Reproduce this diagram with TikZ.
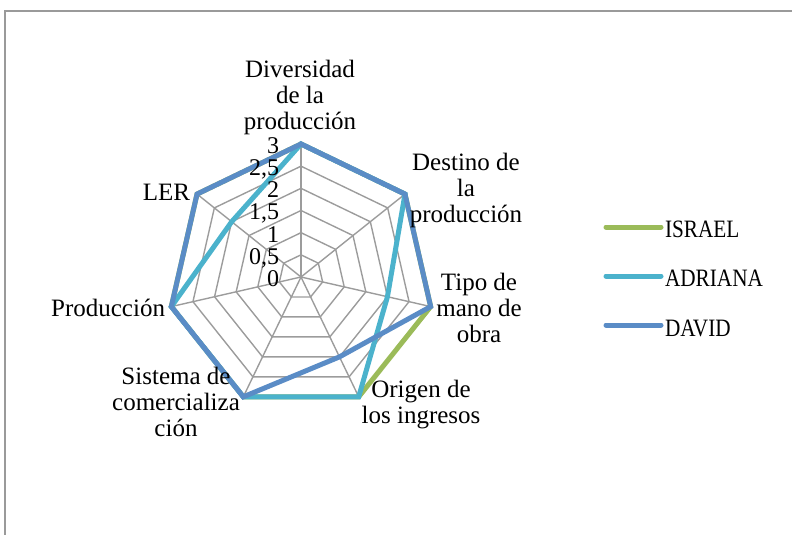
\documentclass[tikz,border=0pt]{standalone}
\usepackage{fontspec}
\setmainfont{Liberation Serif}
\newfontfamily\legfont[FakeStretch=0.85]{Liberation Serif}
\definecolor{gridc}{HTML}{9C9C9C}
\definecolor{framec}{HTML}{9A9A9A}
\definecolor{israel}{HTML}{9BBB59}
\definecolor{adriana}{HTML}{4BB2CC}
\definecolor{david}{HTML}{5A8CC6}
\begin{document}
\begin{tikzpicture}[x=1pt,y=-1pt,
  every node/.style={inner sep=0pt, outer sep=0pt},
  lbl/.style={font=\fontsize{25}{26}\selectfont, align=center, anchor=base},
  tick/.style={font=\fontsize{24}{24}\selectfont, anchor=base east},
  gridline/.style={draw=gridc, line width=1.4pt},
  series/.style={line width=5pt},
  legline/.style={line width=5pt, line cap=round},
  legtext/.style={font=\legfont\fontsize{25}{26}\selectfont, anchor=base west}]
\useasboundingbox (0,0) rectangle (792,535);
% frame
\draw[draw=framec, line width=1.5pt] (5,545) -- (5,11) -- (800,11);
% geometry
\coordinate (C) at (301,277);
\foreach \k in {0,...,6}{
  \foreach \v in {1,...,6}{
    \coordinate (r\v-\k) at ({301+22.1667*\v*sin(360*\k/7)},{277-22.1667*\v*cos(360*\k/7)});
  }
}
% grid
\foreach \v in {1,...,6}{
  \draw[gridline] (r\v-0) -- (r\v-1) -- (r\v-2) -- (r\v-3) -- (r\v-4) -- (r\v-5) -- (r\v-6) -- cycle;
}
\foreach \k in {0,...,6}{
  \draw[gridline] (C) -- (r6-\k);
}
% series
\draw[series, israel] (r6-0) -- (r6-1) -- (r6-2) -- (r6-3) -- (r6-4) -- (r6-5) -- (r6-6) -- cycle;
\draw[series, adriana] (r6-0) -- (r6-1) -- (r4-2) -- (r6-3) -- (r6-4) -- (r6-5) -- (r4-6) -- cycle;
\draw[series, david] (r6-0) -- (r6-1) -- (r6-2) -- (r4-3) -- (r6-4) -- (r6-5) -- (r6-6) -- cycle;
% tick labels
\node[tick] (t0) at (279,286) {0};
\node[tick] (t1) at (279,264) {0,5};
\node[tick] (t2) at (279,242) {1};
\node[tick] (t3) at (279,219.5) {1,5};
\node[tick] (t4) at (279,197) {2};
\node[tick] (t5) at (279,175) {2,5};
\node[tick] (t6) at (279,153) {3};
% axis labels (anchor = baseline of last line)
\node[lbl] (div) at (300,129) {Diversidad\\de la\\producción};
\node[lbl] (dest) at (466,222) {Destino de\\la\\producción};
\node[lbl] (tipo) at (479,342) {Tipo de\\mano de\\obra};
\node[lbl] (orig) at (421,423) {Origen de\\los ingresos};
\node[lbl] (sist) at (176,436) {Sistema de\\comercializa\\ción};
\node[lbl, anchor=base east] (prod) at (165,316) {Producción};
\node[lbl, anchor=base east] (ler) at (190,200) {LER};
% legend
\node[legtext] (lisr) at (665,237) {ISRAEL};
\node[legtext] (ladr) at (665,286) {ADRIANA};
\node[legtext] (ldav) at (665,336) {DAVID};
\coordinate (a1) at (606,227); \coordinate (b1) at (661,227);
\coordinate (a2) at (606,276); \coordinate (b2) at (661,276);
\coordinate (a3) at (606,325); \coordinate (b3) at (661,325);
\draw[legline, israel] (a1) -- (b1);
\draw[legline, adriana] (a2) -- (b2);
\draw[legline, david] (a3) -- (b3);
\end{tikzpicture}
\end{document}
